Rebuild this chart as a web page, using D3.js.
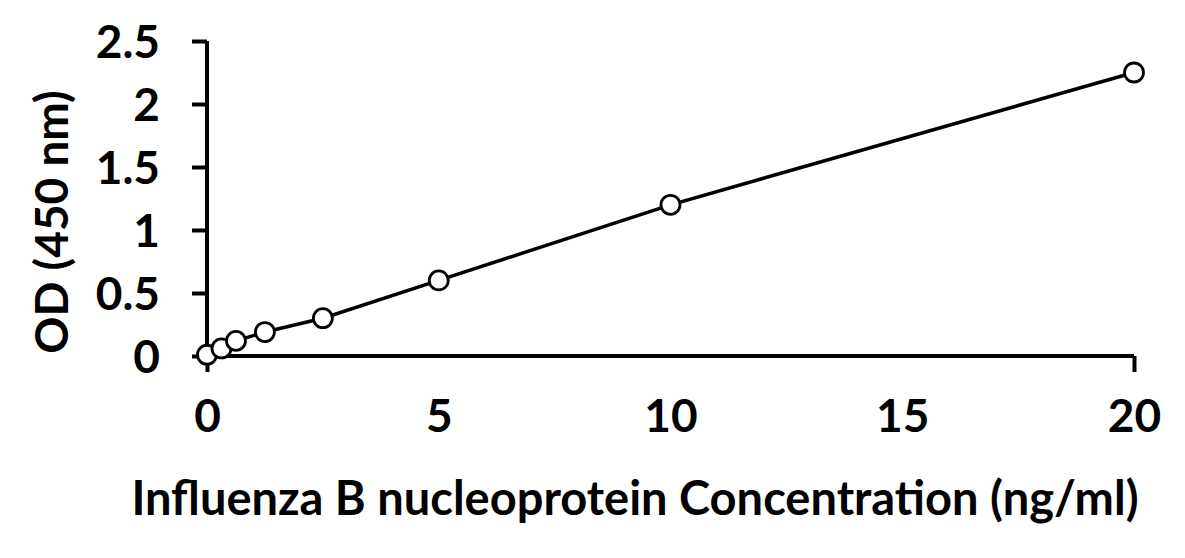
<!DOCTYPE html>
<html><head><meta charset="utf-8">
<script src="https://cdn.jsdelivr.net/npm/d3@7"></script>
<style>
html,body{margin:0;padding:0;background:#fff;}
svg text{font-family:Lato,"Open Sans",sans-serif;font-weight:700;fill:#000;}
</style></head>
<body><svg id="c" width="1185" height="558"></svg>
<script>
const concentration = [0, 0.3125, 0.625, 1.25, 2.5, 5, 10, 20];
const od = [0.01, 0.06, 0.12, 0.19, 0.30, 0.60, 1.20, 2.25];
const xTickLabels = [0, 5, 10, 15, 20];
const xTickMarks = [0, 20];
const yTickLabels = [0, 0.5, 1, 1.5, 2, 2.5];
const xTitle = "Influenza B nucleoprotein Concentration (ng/ml)";
const yTitle = "OD (450 nm)";

const svg = d3.select("#c");
const x = d3.scaleLinear().domain([0, 20]).range([207, 1134]);
const y = d3.scaleLinear().domain([0, 2.5]).range([356, 41]);

// y axis
const yAxis = d3.axisLeft(y).tickValues(yTickLabels).tickSize(15).tickPadding(32)
  .tickFormat(d => String(d));
const gy = svg.append("g").attr("transform", `translate(${x(0)},0)`).call(yAxis);
gy.select(".domain").attr("stroke", "#000").attr("stroke-width", 4).attr("d", `M0,${y(2.5)}V${y(0)}`);
gy.selectAll(".tick line").attr("stroke", "#000").attr("stroke-width", 4);
gy.selectAll(".tick text").attr("font-size", 46).attr("font-family", "Lato").attr("font-weight", 700).attr("dy", "0.36em");

// x axis labels
const xAxis = d3.axisBottom(x).tickValues(xTickLabels).tickSize(0).tickPadding(43).tickFormat(d => String(d));
const gx = svg.append("g").attr("transform", `translate(0,${y(0)})`).call(xAxis);
gx.select(".domain").attr("stroke", "#000").attr("stroke-width", 4).attr("d", `M${x(0)},0H${x(20)}`);
gx.selectAll(".tick text").attr("font-size", 46).attr("font-family", "Lato").attr("font-weight", 700);
// x tick marks
const xMarks = d3.axisBottom(x).tickValues(xTickMarks).tickSize(16).tickFormat("");
const gm = svg.append("g").attr("transform", `translate(0,${y(0)})`).call(xMarks);
gm.select(".domain").remove();
gm.selectAll(".tick line").attr("stroke", "#000").attr("stroke-width", 4);

// line
const pts = concentration.map((c, i) => ({c, v: od[i]}));
svg.append("path").datum(pts)
  .attr("fill", "none").attr("stroke", "#000").attr("stroke-width", 3.5)
  .attr("d", d3.line().x(d => x(d.c)).y(d => y(d.v)));

svg.append("g").selectAll("circle").data(pts).join("circle")
  .attr("cx", d => x(d.c)).attr("cy", d => y(d.v)).attr("r", 9.5)
  .attr("fill", "#fff").attr("stroke", "#000").attr("stroke-width", 2.8);

// titles
svg.append("text").attr("x", 635).attr("y", 515).attr("text-anchor", "middle")
  .attr("font-size", 47).text(xTitle);
svg.append("text").attr("transform", "translate(68,222) rotate(-90)").attr("text-anchor", "middle")
  .attr("font-size", 46).text(yTitle);
</script></body></html>
